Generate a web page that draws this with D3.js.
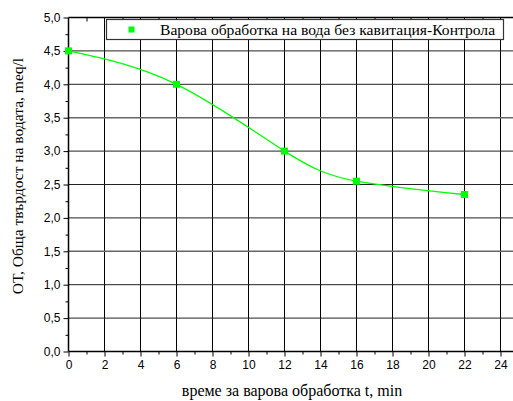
<!DOCTYPE html>
<html>
<head>
<meta charset="utf-8">
<script src="https://cdn.jsdelivr.net/npm/d3@7"></script>
<style>
  body { margin: 0; background: #fff; }
  svg { display: block; }
  .serif { font-family: 'Liberation Serif', 'Times New Roman', serif; }
  .sans { font-family: 'Liberation Sans', Arial, sans-serif; }
</style>
</head>
<body>
<div id="chart"></div>
<script>
// data
const times = [0, 6, 12, 16, 22];
const hardness = [4.5, 4.0, 3.0, 2.55, 2.35];
const xTicks = [0, 2, 4, 6, 8, 10, 12, 14, 16, 18, 20, 22, 24];
const yTicks = [0, 0.5, 1, 1.5, 2, 2.5, 3, 3.5, 4, 4.5, 5];
const seriesName = "Варова обработка на вода без кавитация-Контрола";
const xTitle = "време за варова обработка t, min";
const yTitle = "ОТ, Обща твърдост на водата, meq/l";

const W = 513, H = 401;
const mLeft = 68.5, mTop = 17.5, mBottom = 351.5;

const svg = d3.select("#chart").append("svg")
  .attr("width", W).attr("height", H);

const x = d3.scaleLinear().domain([0, 25]).range([mLeft, mLeft + 25 * 18]);
const y = d3.scaleLinear().domain([0, 5]).range([mBottom, mTop]);

//== grid ==//
const grid = svg.append("g");
grid.selectAll(".vg").data(xTicks.filter(d => d > 0))
  .enter().append("line")
  .attr("x1", d => x(d)).attr("x2", d => x(d))
  .attr("y1", mTop).attr("y2", mBottom)
  .attr("stroke", "#000").attr("stroke-width", 1);
grid.selectAll(".hg").data(yTicks.filter(d => d > 0 && d < 5))
  .enter().append("line")
  .attr("x1", mLeft).attr("x2", W)
  .attr("y1", d => y(d)).attr("y2", d => y(d))
  .attr("stroke", d => (d === 1.5 || d === 3.5) ? "#666" : "#222")
  .attr("stroke-width", d => (d === 1.5 || d === 3.5) ? 1.4 : 1);

//== axes ==//
const fmt = d => d3.format(".1f")(d).replace(".", ",");

const xAxis = svg.append("g").attr("transform", `translate(0,${mBottom})`)
  .call(d3.axisBottom(x).tickValues(xTicks).tickSize(5).tickPadding(4));
xAxis.select(".domain").remove();
svg.append("g").attr("transform", `translate(0,${mBottom})`)
  .call(d3.axisBottom(x).tickValues(d3.range(1, 25, 2)).tickSize(3).tickFormat(""))
  .select(".domain").remove();

const yAxis = svg.append("g").attr("transform", `translate(${mLeft},0)`)
  .call(d3.axisLeft(y).tickValues(yTicks).tickSize(5).tickPadding(3).tickFormat(fmt));
yAxis.select(".domain").remove();
svg.append("g").attr("transform", `translate(${mLeft},0)`)
  .call(d3.axisLeft(y).tickValues(d3.range(0.25, 5, 0.5)).tickSize(3).tickFormat(""))
  .select(".domain").remove();

// top axis, minor ticks inward
svg.append("g").attr("transform", `translate(0,${mTop})`)
  .call(d3.axisBottom(x).tickValues(d3.range(1, 25, 2)).tickSize(4).tickFormat(""))
  .select(".domain").remove();

svg.selectAll("g").attr("font-family", null);
svg.selectAll(".tick text")
  .attr("class", "sans")
  .attr("font-size", 12).attr("fill", "#000");
svg.selectAll(".tick line").attr("stroke", "#000");

// frame
svg.append("line").attr("x1", mLeft).attr("x2", W).attr("y1", mBottom).attr("y2", mBottom)
  .attr("stroke", "#000").attr("stroke-width", 1.5);
svg.append("line").attr("x1", mLeft).attr("x2", W).attr("y1", mTop).attr("y2", mTop)
  .attr("stroke", "#000").attr("stroke-width", 1.5);
svg.append("line").attr("x1", mLeft).attr("x2", mLeft).attr("y1", mTop).attr("y2", mBottom)
  .attr("stroke", "#000").attr("stroke-width", 1.5);

//== curve ==//
const pts = times.map((t, i) => [t, hardness[i]]);
const line = d3.line()
  .x(d => x(d[0])).y(d => y(d[1]))
  .curve(d3.curveNatural);
svg.append("path").datum(pts)
  .attr("d", line)
  .attr("fill", "none").attr("stroke", "#00ff00").attr("stroke-width", 1.3);

const ms = 7;
svg.selectAll(".pt").data(pts).enter().append("rect")
  .attr("x", d => x(d[0]) - ms / 2).attr("y", d => y(d[1]) - ms / 2)
  .attr("width", ms).attr("height", ms)
  .attr("fill", "#00ff00");

//== legend ==//
const lg = svg.append("g");
lg.append("rect").attr("x", 106.5).attr("y", 19.5).attr("width", 397).attr("height", 20)
  .attr("fill", "#fff").attr("stroke", "#333").attr("stroke-width", 1.2);
lg.append("rect").attr("x", 128.5).attr("y", 26.5).attr("width", 6).attr("height", 6)
  .attr("fill", "#00ff00");
lg.append("text").attr("class", "serif").attr("x", 160).attr("y", 35)
  .attr("font-size", 15.6).text(seriesName);

//== titles ==//
svg.append("text").attr("class", "serif")
  .attr("x", 292).attr("y", 396)
  .attr("text-anchor", "middle")
  .attr("font-size", 16).text(xTitle);

svg.append("text").attr("class", "serif")
  .attr("transform", "translate(23,176) rotate(-90)")
  .attr("text-anchor", "middle")
  .attr("font-size", 15.5).text(yTitle);
</script>
</body>
</html>
